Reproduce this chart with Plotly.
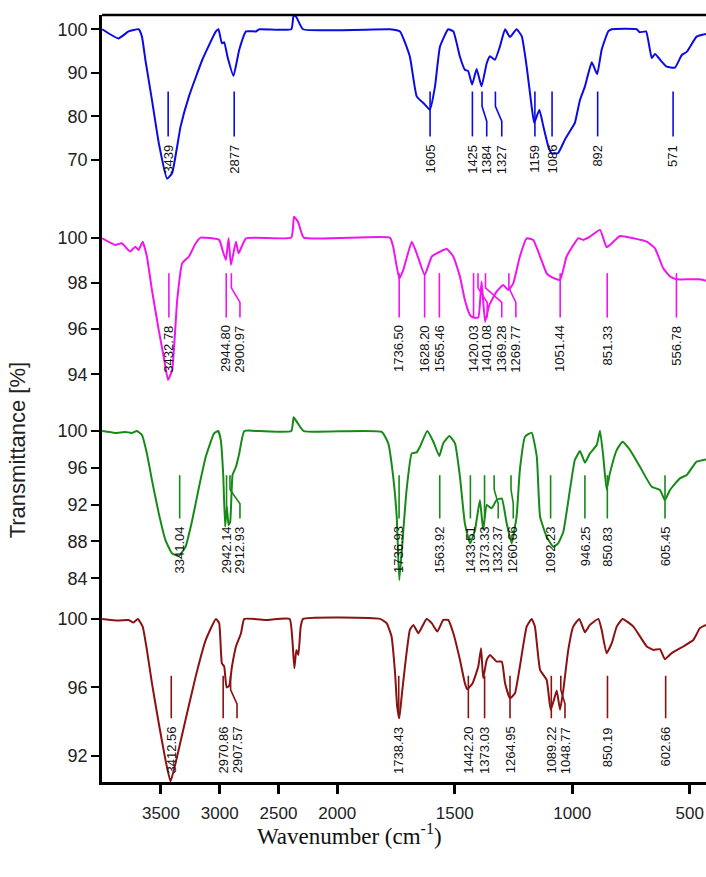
import plotly.graph_objects as go
from plotly.subplots import make_subplots

# ---------------- data ----------------
wn_blue = [4000, 3862, 3776, 3690, 3662, 3633, 3577, 3519, 3448, 3405, 3333, 3262, 3148, 3033, 3011, 2982, 2962, 2934, 2883, 2834,
           2776, 2691, 2663, 2391, 2371, 2348, 2291, 1776, 1733, 1691, 1662, 1627, 1606, 1584, 1563, 1528, 1506, 1478, 1457, 1443,
           1426, 1407, 1386, 1364, 1350, 1329, 1308, 1286, 1265, 1237, 1215, 1194, 1173, 1162, 1140, 1123, 1102, 1088, 1060, 1031,
           1003, 989, 967, 946, 917, 894, 875, 847, 832, 726, 713, 686, 662, 648, 620, 598, 563, 534, 513, 471, 431]
t_blue = [100, 97.9, 99.5, 100, 98.3, 93, 83.8, 73.9, 65.7, 67, 77.7, 84.6, 93, 99.5, 100, 96.8, 97, 93.7, 89.3, 95.3,
          99.5, 99.5, 100, 100, 103.3, 102.8, 100, 100, 99.5, 93.7, 84.6, 82.7, 81.5, 86.9, 96, 100, 99.5, 93.7, 90.7, 90.4,
          87.3, 90.9, 86.9, 92.2, 93.8, 93, 96, 100, 98.2, 100, 98.4, 91.4, 82.3, 78.5, 81.5, 77.7, 73.1, 71.5, 71.6, 74.7,
          77.2, 78.5, 83.8, 86.9, 92.4, 89.7, 95.3, 99.5, 100, 100, 99.3, 99.5, 93.4, 94.3, 92.6, 91.4, 91.2, 94.1, 94.8, 98.3, 98.9]

wn_mag = [4000, 3890, 3834, 3762, 3719, 3690, 3656, 3620, 3577, 3519, 3477, 3440, 3405, 3362, 3320, 3262, 3205, 3162, 3005, 2977,
          2948, 2925, 2905, 2862, 2840, 2776, 2391, 2368, 2334, 2285, 1776, 1762, 1736, 1719, 1683, 1662, 1628, 1598, 1577, 1534,
          1506, 1478, 1457, 1435, 1421, 1400, 1386, 1371, 1353, 1322, 1294, 1272, 1251, 1223, 1194, 1166, 1137, 1109, 1088, 1052,
          1024, 974, 953, 925, 882, 854, 832, 797, 740, 683, 648, 613, 584, 556, 499, 457, 431]
t_mag = [99.97, 99.68, 99.75, 99.39, 99.6, 99.46, 99.82, 99.17, 97.7, 95.94, 94.77, 93.75, 94.19, 97.26, 98.87, 99.17, 99.75, 100, 99.9, 99.46,
         99.02, 99.97, 98.8, 99.82, 99.31, 99.97, 100, 100.92, 100.7, 100, 100, 99.6, 98.2, 98.58, 99.82, 99.31, 98.36, 99.17, 99.31, 99.5,
         99.17, 98.29, 97.26, 96.6, 96.49, 96.49, 98.07, 96.3, 97.04, 97.63, 97.92, 97.7, 97.99, 99.17, 99.97, 99.9, 99.17, 98.43, 98.26, 98.14,
         99.17, 99.97, 99.9, 100.04, 100.34, 99.58, 99.75, 100.07, 99.97, 99.82, 99.53, 98.65, 98.29, 98.17, 98.17, 98.17, 98.11]

wn_green = [4000, 3890, 3805, 3748, 3705, 3662, 3620, 3577, 3519, 3462, 3405, 3348, 3291, 3234, 3176, 3119, 3048, 3013, 2991, 2971,
            2954, 2940, 2925, 2911, 2891, 2862, 2834, 2791, 2663, 2391, 2371, 2334, 2285, 1811, 1783, 1762, 1747, 1736, 1722, 1705,
            1683, 1662, 1648, 1617, 1591, 1566, 1549, 1523, 1499, 1478, 1457, 1435, 1414, 1393, 1379, 1364, 1343, 1322, 1300, 1279,
            1258, 1237, 1223, 1201, 1173, 1151, 1137, 1109, 1081, 1060, 1038, 1010, 989, 967, 946, 925, 896, 882, 868, 854,
            840, 811, 786, 754, 712, 662, 627, 606, 584, 542, 513, 471, 431]
t_green = [100, 99.8, 99.9, 99.8, 100, 99.57, 97.57, 94.67, 91.05, 88.15, 86.7, 86.45, 87.43, 90.33, 93.95, 97.21, 99.75, 100, 99.02, 95.4,
           89.6, 91.78, 89.78, 90.15, 95.22, 96.12, 97.57, 100, 100, 100, 101.49, 100.8, 100, 99.9, 98.66, 95.04, 90.69, 83.8, 88.15, 93.6,
           97.57, 97.68, 98.3, 100, 98.84, 97.28, 98.66, 99.46, 98.66, 95.04, 89.96, 87.79, 89.24, 92.5, 89.24, 91.96, 91.6, 92.5, 92.68, 89.96,
           87.79, 90.69, 95.76, 99.38, 99.82, 97.21, 90.69, 88.51, 87.43, 87.79, 89.06, 93.6, 96.85, 97.83, 96.56, 97.57, 98.48, 100.04, 97.21, 93.66,
           95.4, 97.93, 98.84, 97.93, 96.12, 93.95, 93.6, 92.5, 93.6, 94.86, 95.22, 96.67, 96.92]

wn_brown = [4000, 3862, 3776, 3734, 3697, 3656, 3620, 3577, 3519, 3462, 3419, 3376, 3291, 3205, 3119, 3033, 3005, 2982, 2962, 2942,
            2920, 2896, 2862, 2819, 2791, 2605, 2405, 2382, 2365, 2348, 2331, 2311, 2291, 1818, 1790, 1769, 1754, 1745, 1736, 1726,
            1712, 1691, 1676, 1655, 1620, 1598, 1574, 1549, 1528, 1506, 1478, 1457, 1447, 1424, 1400, 1388, 1379, 1364, 1350, 1322,
            1300, 1286, 1265, 1244, 1223, 1194, 1173, 1159, 1137, 1109, 1092, 1078, 1066, 1052, 1038, 1017, 996, 970, 946, 925,
            889, 875, 854, 832, 811, 786, 740, 683, 655, 627, 606, 577, 528, 485, 457, 431]
t_brown = [100, 99.9, 99.94, 99.79, 100, 99.55, 98.19, 96.25, 93.91, 91.77, 90.51, 91.58, 94.11, 96.63, 98.77, 100, 99.75, 97.41, 97.22, 96.01,
           96.09, 97.22, 98.39, 99.16, 100, 99.94, 100, 98.77, 97.12, 98.19, 97.9, 99.55, 100, 100, 99.75, 98.97, 96.83, 94.88, 94.2, 95.47,
           97.22, 99.36, 99.65, 99.16, 100, 99.75, 99.26, 99.94, 99.94, 99.16, 97.61, 96.25, 95.89, 96.25, 97.22, 98.29, 96.54, 97.61, 97.9, 97.51,
           97.51, 96.25, 95.37, 95.66, 97.22, 99.55, 100, 99.55, 97.02, 96.44, 94.69, 95.27, 95.82, 94.69, 95.86, 98.19, 99.55, 100, 99.22, 99.65,
           100, 99.36, 98.0, 98.58, 99.55, 100, 99.55, 98.39, 98.19, 98.23, 97.65, 98.0, 98.39, 98.77, 99.46, 99.65]

peaks_blue = ["3439", "2877", "1605", "1425", "1384", "1327", "1159", "1086", "892", "571"]
peaks_mag = ["3432.78", "2944.80", "2900.97", "1736.50", "1628.20", "1565.46", "1420.03", "1401.08",
             "1369.28", "1269.77", "1051.44", "851.33", "556.78"]
peaks_green = ["3341.04", "2942.14", "2912.93", "1736.93", "1563.92", "1433.51", "1373.33", "1332.37",
               "1260.66", "1092.23", "946.25", "850.83", "605.45"]
peaks_brown = ["3412.56", "2970.86", "2907.57", "1738.43", "1442.20", "1373.03", "1264.95", "1089.22",
               "1048.77", "850.19", "602.66"]

tick_wn = [3500, 3000, 2500, 2000, 1500, 1000, 500]
tick_text = ["3500", "3000", "2500", "2000", "1500", "1000", "500"]

# ---------------- styling / layout helpers ----------------
def u(w):
    """compressed wavenumber scale: above 2000 cm-1 at half scale"""
    return w if w <= 2000 else 2000 + (w - 2000) / 2.0

# leader offsets (where label sits when it is shifted from its peak line)
leader_blue = {"1384": 1364, "1327": 1300}
leader_mag = {"2900.97": 2828, "1401.08": 1362, "1369.28": 1300, "1269.77": 1240}
leader_green = {"2912.93": 2828, "1332.37": 1315, "1260.66": 1251}
leader_brown = {"2907.57": 2853, "1048.77": 1031}

panels = [
    dict(wn=wn_blue, t=t_blue, peaks=peaks_blue, lead=leader_blue, color="#0b0be6",
         yrange=[63.1, 103.27], ticks=[70, 80, 90, 100], ltop=85.7, lbot=75.4, txt=73.9),
    dict(wn=wn_mag, t=t_mag, peaks=peaks_mag, lead=leader_mag, color="#f014f0",
         yrange=[93.31, 102.09], ticks=[94, 96, 98, 100], ltop=98.44, lbot=96.49, txt=96.24),
    dict(wn=wn_green, t=t_green, peaks=peaks_green, lead=leader_green, color="#168a16",
         yrange=[82.51, 104.46], ticks=[84, 88, 92, 96, 100], ltop=95.2, lbot=90.5, txt=89.86),
    dict(wn=wn_brown, t=t_brown, peaks=peaks_brown, lead=leader_brown, color="#8b1212",
         yrange=[90.48, 101.57], ticks=[92, 96, 100], ltop=96.68, lbot=94.2, txt=93.82),
]

fig = make_subplots(rows=4, cols=1, shared_xaxes=True, vertical_spacing=0,
                    row_heights=[175, 200, 202, 190])

SANS = "Liberation Sans, Arial, sans-serif"
annotations = []
for i, p in enumerate(panels):
    r = i + 1
    pairs = list(zip(p["wn"], p["t"]))
    fig.add_trace(go.Scatter(x=[u(w) for w, _ in pairs], y=[v for _, v in pairs], mode="lines",
                             line=dict(color=p["color"], width=2, shape="spline", smoothing=0.4),
                             showlegend=False, hoverinfo="skip"), row=r, col=1)
    span = p["ltop"] - p["lbot"]
    for lab in p["peaks"]:
        pk = float(lab)
        lx = p["lead"].get(lab, pk)
        if lx == pk:
            xs = [u(pk), u(pk)]
            ys = [p["ltop"], p["lbot"]]
        else:
            xs = [u(pk), u(pk), u(lx), u(lx)]
            ys = [p["ltop"], p["ltop"] - span * 0.33, p["ltop"] - span * 0.66, p["lbot"]]
        fig.add_trace(go.Scatter(x=xs, y=ys, mode="lines", line=dict(color=p["color"], width=1.6),
                                 showlegend=False, hoverinfo="skip"), row=r, col=1)
        xref = "x" if r == 1 else f"x{r}"
        yref = "y" if r == 1 else f"y{r}"
        annotations.append(dict(x=u(lx), y=p["txt"], xref=xref, yref=yref, text=lab, textangle=-90,
                                showarrow=False, xanchor="center", yanchor="top",
                                font=dict(family=SANS, size=13, color="#111111")))
    fig.update_yaxes(row=r, col=1, range=p["yrange"], tickvals=p["ticks"], showgrid=False, zeroline=False,
                     showline=True, linecolor="black", linewidth=2.5, ticks="outside", ticklen=8, tickwidth=2,
                     tickcolor="black", tickfont=dict(family=SANS, size=18, color="#222222"))

x_range = [u(4002), 431]
for r in range(1, 5):
    fig.update_xaxes(row=r, col=1, range=x_range, showgrid=False, zeroline=False,
                     showline=False, ticks="", showticklabels=False)
fig.update_xaxes(row=4, col=1, showline=True, linecolor="black", linewidth=2.5, ticks="outside",
                 ticklen=9, tickwidth=2.5, tickcolor="black", showticklabels=True,
                 tickvals=[u(w) for w in tick_wn], ticktext=tick_text, ticklabelstandoff=5,
                 tickfont=dict(family=SANS, size=17, color="#222222"))

annotations.append(dict(x=-0.14, y=0.433, xref="paper", yref="paper", text="Transmittance [%]",
                        textangle=-90, showarrow=False, xanchor="center", yanchor="middle",
                        font=dict(family=SANS, size=22, color="#222222")))
annotations.append(dict(x=0.41, y=-0.069, xref="paper", yref="paper",
                        text="Wavenumber (cm<sup>-1</sup>)", showarrow=False,
                        xanchor="center", yanchor="middle",
                        font=dict(family="Liberation Serif, Times New Roman, serif", size=23, color="#111111")))

fig.update_layout(width=706, height=877, margin=dict(l=102, r=0, t=15, b=95),
                  paper_bgcolor="white", plot_bgcolor="white", annotations=annotations,
                  shapes=[dict(type="line", xref="paper", yref="paper", x0=0, x1=1, y0=1, y1=1,
                               line=dict(color="black", width=2.5))])

fig.write_html("out.html")
